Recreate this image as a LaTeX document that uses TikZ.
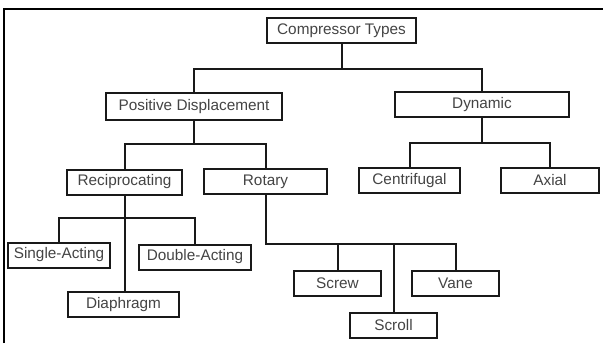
\documentclass[tikz,border=0pt]{standalone}
\usepackage{fontspec}
\setmainfont{Liberation Sans}
\usepackage{tikz}
\usetikzlibrary{positioning}
\definecolor{ink}{RGB}{25,25,25}
\definecolor{label}{RGB}{68,68,68}

\tikzset{
  typebox/.style={draw=ink, line width=1.5pt, fill=white, inner sep=0pt,
    minimum height=18.75pt, text=label, font=\fontsize{11.5}{13}\selectfont},
  link/.style={draw=ink, line width=1.5pt}
}

\begin{document}
\begin{tikzpicture}[x=0.75pt,y=-0.75pt]
  \useasboundingbox (0,0) rectangle (603,343);

  % frame
  \draw[black, line width=1.6pt] (4,343) -- (4,9) -- (603,9);

  % levels of the tree
  \node[typebox, minimum width=111.75pt] (types) at (341.5,30.5) {Compressor Types};

  \node[typebox, minimum width=132pt, minimum height=20.25pt] (posdisp) at (194,106.5) {Positive Displacement};
  \node[typebox, minimum width=130.5pt] (dynamic) at (482,104.5) {Dynamic};

  \node[typebox, minimum width=86.25pt] (recip) at (124.5,182) {Reciprocating};
  \node[typebox, minimum width=92.25pt] (rotary) at (265.5,181.5) {Rotary};
  \node[typebox, minimum width=75.75pt] (centri) at (409.5,180.5) {Centrifugal};
  \node[typebox, minimum width=73.5pt] (axial) at (550,180) {Axial};

  \node[typebox, minimum width=76.5pt] (single) at (59,255) {Single-Acting};
  \node[typebox, minimum width=84pt] (double) at (195,257) {Double-Acting};
  \node[typebox, minimum width=83.25pt] (diaph) at (123.5,304.5) {Diaphragm};

  \node[typebox, minimum width=65.25pt] (screw) at (337.5,283) {Screw};
  \node[typebox, minimum width=65.25pt] (scroll) at (393.5,325) {Scroll};
  \node[typebox, minimum width=65.25pt] (vane) at (455.5,283.5) {Vane};

  % heights of the branching bars
  \coordinate (topbar) at (0,69);
  \coordinate (pdbar) at (0,144);
  \coordinate (dynbar) at (0,143);
  \coordinate (recbar) at (0,218);
  \coordinate (rotbar) at (0,244);

  % compressor types
  \draw[link] (types.south) -- (types.south |- topbar);
  \draw[link] (posdisp.north) |- (dynamic.north |- topbar) -- (dynamic.north);

  % positive displacement
  \draw[link] (posdisp.south) -- (posdisp.south |- pdbar);
  \draw[link] (recip.north) |- (rotary.north |- pdbar) -- (rotary.north);

  % dynamic
  \draw[link] (dynamic.south) -- (dynamic.south |- dynbar);
  \draw[link] (centri.north) |- (axial.north |- dynbar) -- (axial.north);

  % reciprocating
  \draw[link] (recip.south) -- (recip.south |- diaph.north);
  \draw[link] (single.north) |- (double.north |- recbar) -- (double.north);

  % rotary
  \draw[link] (rotary.south) |- (vane.north |- rotbar) -- (vane.north);
  \draw[link] (screw.north) -- (screw.north |- rotbar);
  \draw[link] (scroll.north) -- (scroll.north |- rotbar);

\end{tikzpicture}
\end{document}
